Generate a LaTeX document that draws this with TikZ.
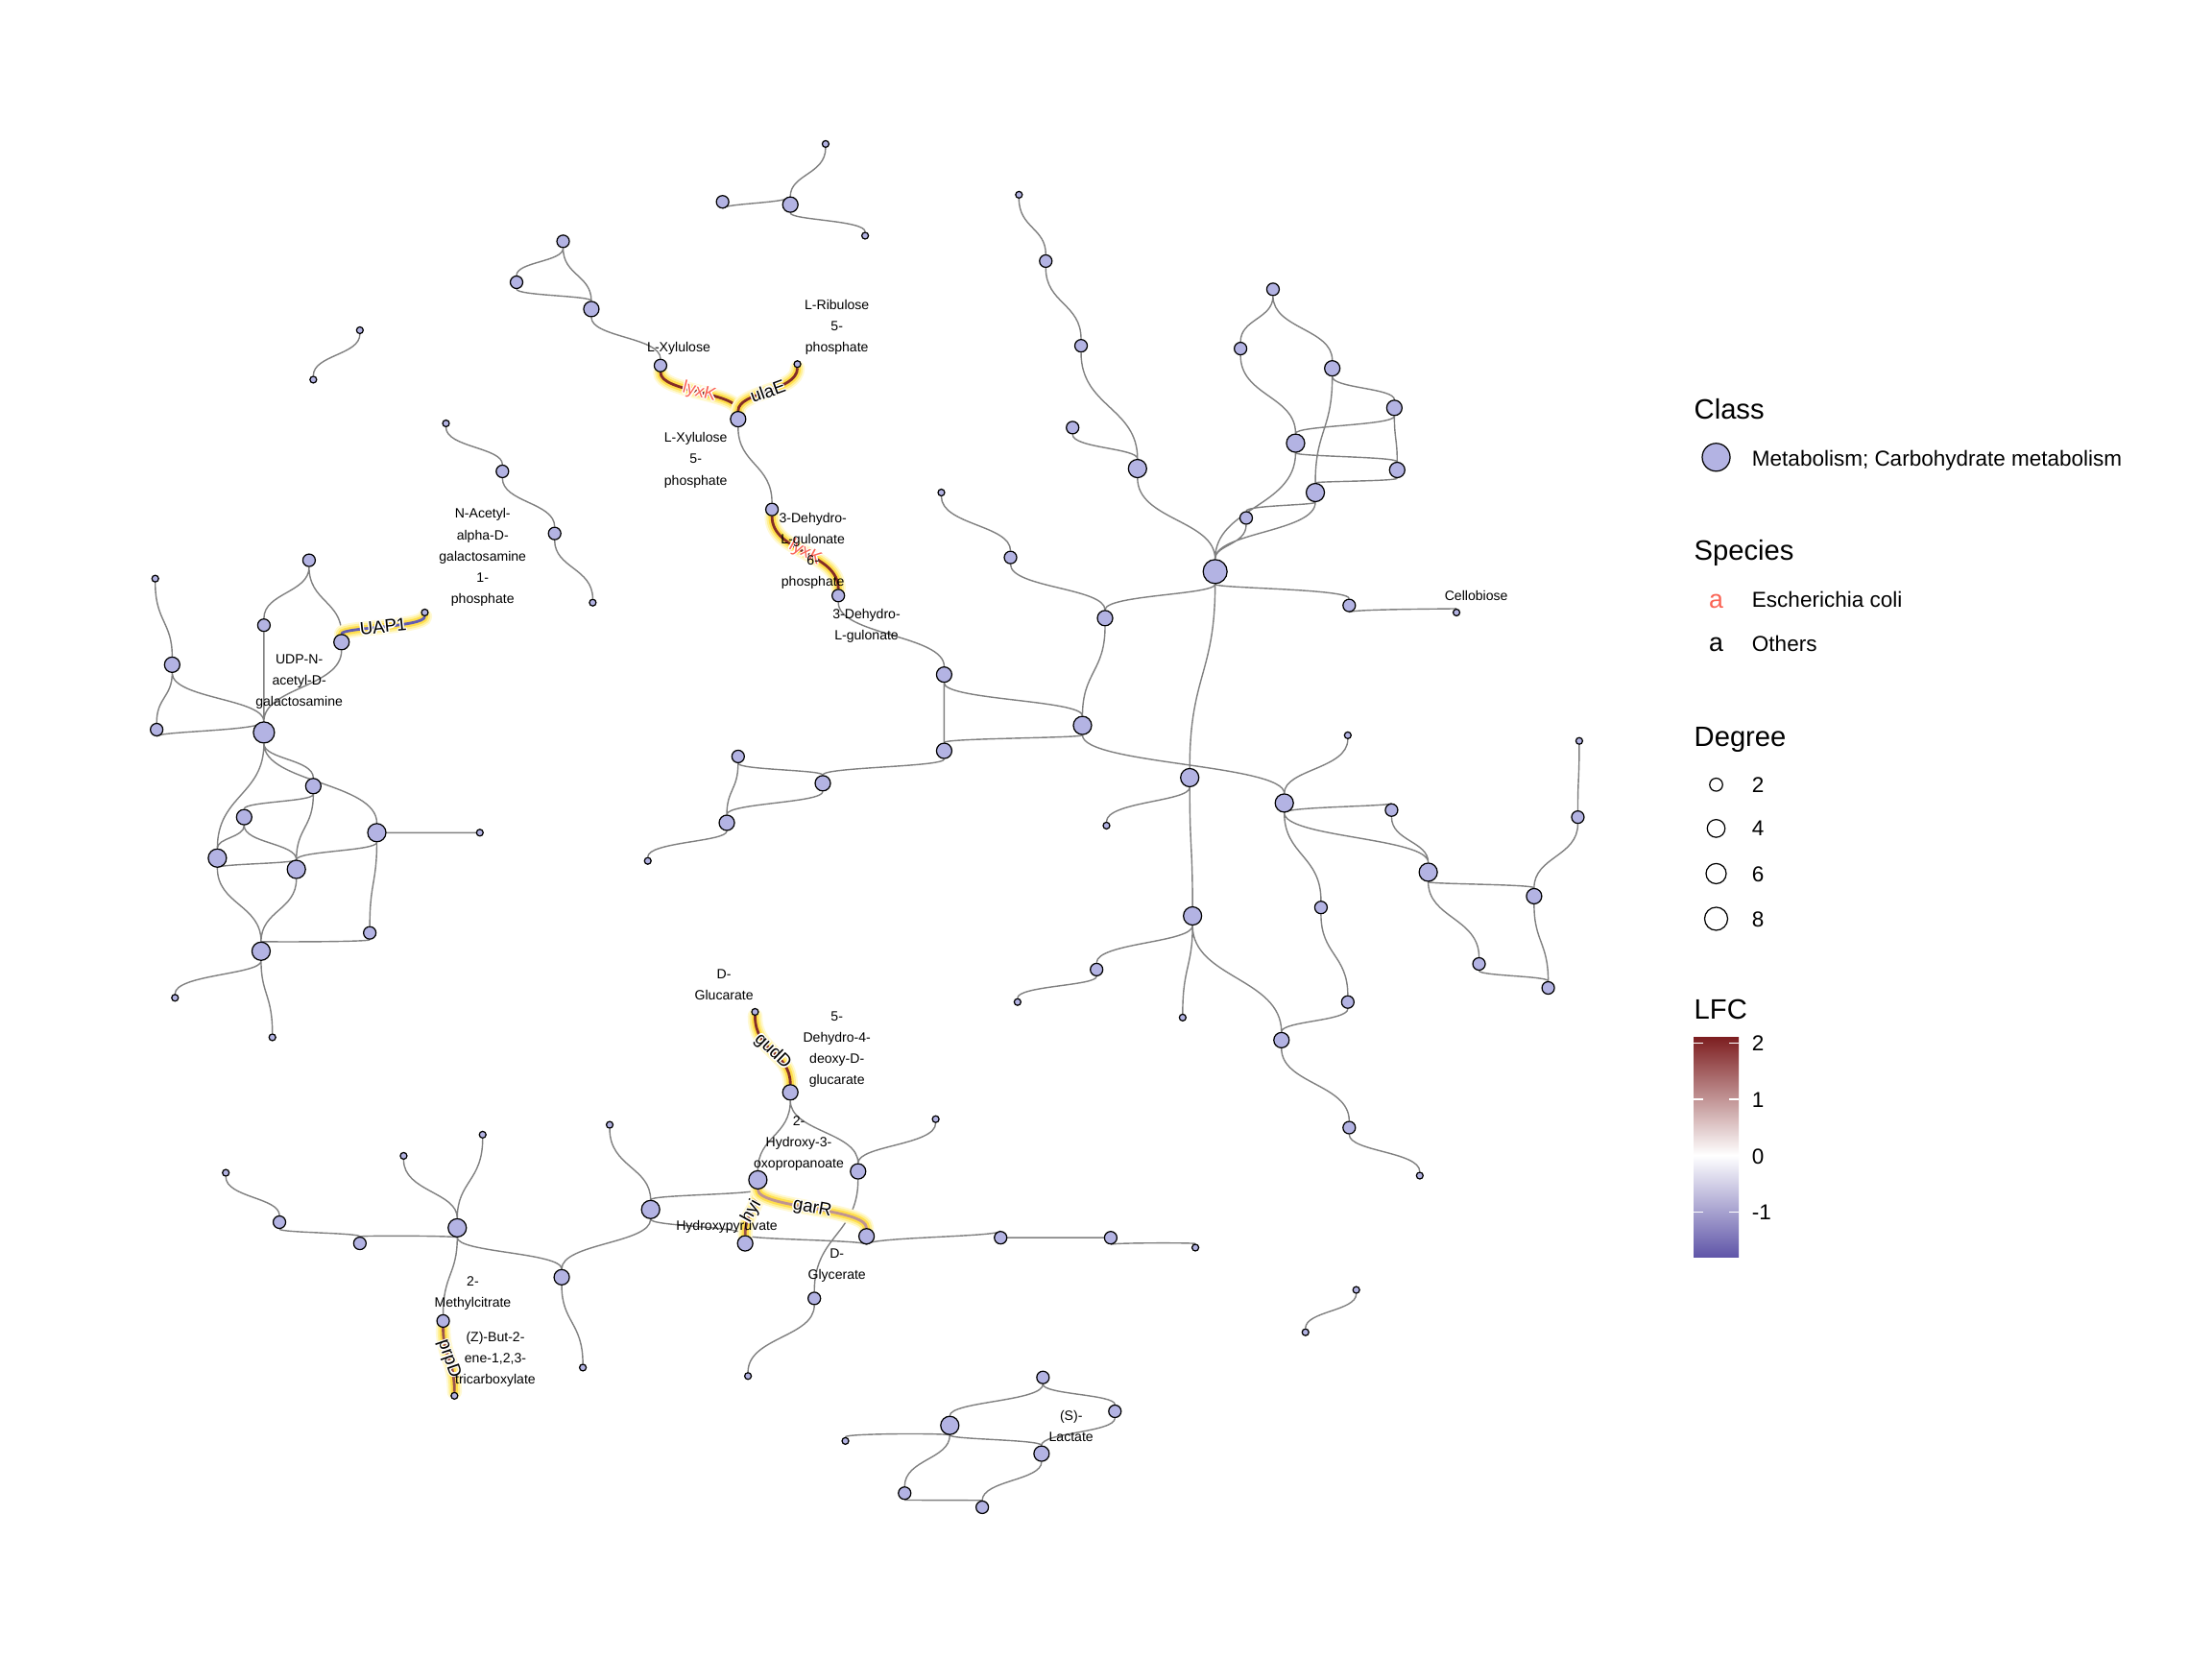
\documentclass[tikz,border=0pt]{standalone}
\usepackage{fontspec}
\setmainfont{Liberation Sans}
\usetikzlibrary{calc,backgrounds}
\definecolor{metfill}{RGB}{179,179,227}
\definecolor{edgegray}{RGB}{128,128,128}
\definecolor{ecoli}{RGB}{250,100,85}
\definecolor{glowa}{RGB}{255,249,212}
\definecolor{glowb}{RGB}{255,240,150}
\definecolor{glowc}{RGB}{255,222,75}
\definecolor{lfchi}{RGB}{132,44,38}
\definecolor{lfcup}{RGB}{155,82,74}
\definecolor{lfcmid}{RGB}{192,148,145}
\definecolor{lfclo}{RGB}{98,92,178}
\definecolor{bartop}{RGB}{125,30,32}
\definecolor{barbot}{RGB}{95,85,168}
\newcommand{\halotext}[1]{\leavevmode
  \rlap{\textcolor{white}{\hspace*{0.4pt}#1}}\rlap{\textcolor{white}{\hspace*{-0.4pt}#1}}%
  \rlap{\textcolor{white}{\raisebox{0.4pt}{#1}}}\rlap{\textcolor{white}{\raisebox{-0.4pt}{#1}}}%
  \rlap{\textcolor{white}{\raisebox{0.28pt}{\hspace*{0.28pt}#1}}}\rlap{\textcolor{white}{\raisebox{0.28pt}{\hspace*{-0.28pt}#1}}}%
  \rlap{\textcolor{white}{\raisebox{-0.28pt}{\hspace*{0.28pt}#1}}}\rlap{\textcolor{white}{\raisebox{-0.28pt}{\hspace*{-0.28pt}#1}}}%
  #1}
\tikzset{
  met/.style={circle, draw=black, fill=metfill, line width=0.35pt, inner sep=0pt},
  deg1/.style={met, minimum size=0.7mm},
  deg2/.style={met, minimum size=1.3mm},
  deg3/.style={met, minimum size=1.6mm},
  deg4/.style={met, minimum size=1.9mm},
  deg5/.style={met, minimum size=2.2mm},
  deg8/.style={met, minimum size=2.5mm},
  lnk/.style={draw=edgegray, line width=0.4pt},
  dg/.style={to path={let \p1=(\tikztostart), \p2=(\tikztotarget) in
    .. controls (\x1,{(\y1+\y2)/2}) and (\x2,{(\y1+\y2)/2}) .. (\tikztotarget) \tikztonodes}},
  gene/.style={draw=#1, line width=0.8pt,
    preaction={draw=glowa, line width=4.4pt, line cap=round},
    preaction={draw=glowb, line width=3.3pt, line cap=round},
    preaction={draw=glowc, line width=2.1pt, line cap=round}},
  glab/.style={font=\fontsize{5.3}{6}\selectfont, inner sep=0.3pt, sloped},
  lbl/.style={font=\fontsize{4}{6.3}\selectfont, align=center, inner sep=0pt},
  legtitle/.style={font=\fontsize{8.3}{10}\selectfont, anchor=base west, inner sep=0pt},
  legtext/.style={font=\fontsize{6.4}{8}\selectfont, anchor=base west, inner sep=0pt},
  degkey/.style={circle, draw=black, line width=0.35pt, inner sep=0pt}
}
\begin{document}
\begin{tikzpicture}[x=0.0147cm, y=-0.0147cm]
    \useasboundingbox (0,0) rectangle (1567.35,1175.5);

    \node[deg1] (a1) at (585,102) {};
    \node[deg3] (a2) at (560,145) {};
    \node[deg2] (a3) at (512,143) {};
    \node[deg1] (a4) at (613,167) {};
    \node[deg1] (b1) at (255,234) {};
    \node[deg1] (b2) at (222,269) {};

    \node[deg2] (c1) at (399,171) {};
    \node[deg2] (c2) at (366,200) {};
    \node[deg3] (c3) at (419,219) {};
    \node[deg2] (c4) at (468,259) {};
    \node[deg1] (c5) at (565,258) {};
    \node[deg3] (c6) at (523,297) {};
    \node[deg2] (c7) at (547,361) {};
    \node[deg2] (c8) at (594,422) {};

    \node[deg3] (d1) at (669,478) {};
    \node[deg3] (d2) at (669,532) {};
    \node[deg4] (d3) at (767,514) {};
    \node[deg3] (d4) at (583,555) {};
    \node[deg2] (d5) at (523,536) {};
    \node[deg3] (d6) at (515,583) {};
    \node[deg1] (d7) at (459,610) {};
    \node[deg3] (d8) at (783,438) {};
    \node[deg8] (d9) at (861,405) {};
    \node[deg2] (d10) at (956,429) {};
    \node[deg1] (d11) at (1032,434) {};
    \node[deg4] (d12) at (843,551) {};
    \node[deg4] (d13) at (845,649) {};
    \node[deg4] (d14) at (910,569) {};
    \node[deg2] (d15) at (986,574) {};
    \node[deg4] (d16) at (1012,618) {};
    \node[deg3] (d17) at (1087,635) {};
    \node[deg2] (d18) at (1118,579) {};
    \node[deg1] (d19) at (1119,525) {};
    \node[deg1] (d20) at (955,521) {};
    \node[deg2] (d21) at (1048,683) {};
    \node[deg2] (d22) at (1097,700) {};
    \node[deg2] (d23) at (936,643) {};
    \node[deg2] (d24) at (955,710) {};
    \node[deg3] (d25) at (908,737) {};
    \node[deg2] (d26) at (956,799) {};
    \node[deg1] (d27) at (1006,833) {};
    \node[deg1] (d28) at (838,721) {};
    \node[deg2] (d29) at (777,687) {};
    \node[deg1] (d30) at (721,710) {};
    \node[deg1] (d31) at (784,585) {};

    \node[deg1] (e1) at (722,138) {};
    \node[deg2] (e2) at (741,185) {};
    \node[deg2] (e3) at (766,245) {};
    \node[deg2] (e4) at (760,303) {};
    \node[deg4] (e5) at (806,332) {};
    \node[deg2] (e6) at (902,205) {};
    \node[deg2] (e7) at (879,247) {};
    \node[deg3] (e8) at (944,261) {};
    \node[deg3] (e9) at (988,289) {};
    \node[deg4] (e10) at (918,314) {};
    \node[deg3] (e11) at (990,333) {};
    \node[deg4] (e12) at (932,349) {};
    \node[deg2] (e13) at (883,367) {};
    \node[deg2] (f1) at (716,395) {};
    \node[deg1] (f2) at (667,349) {};

    \node[deg1] (g1) at (110,410) {};
    \node[deg3] (g2) at (122,471) {};
    \node[deg2] (g3) at (111,517) {};
    \node[deg5] (g4) at (187,519) {};
    \node[deg2] (g5) at (187,443) {};
    \node[deg2] (g6) at (219,397) {};
    \node[deg3] (g7) at (242,455) {};
    \node[deg1] (g8) at (301,434) {};
    \node[deg3] (g9) at (222,557) {};
    \node[deg3] (g10) at (173,579) {};
    \node[deg4] (g11) at (154,608) {};
    \node[deg4] (g12) at (210,616) {};
    \node[deg4] (g13) at (267,590) {};
    \node[deg1] (g14) at (340,590) {};
    \node[deg2] (g15) at (262,661) {};
    \node[deg4] (g16) at (185,674) {};
    \node[deg1] (g17) at (124,707) {};
    \node[deg1] (g18) at (193,735) {};

    \node[deg1] (h1) at (316,300) {};
    \node[deg2] (h2) at (356,334) {};
    \node[deg2] (h3) at (393,378) {};
    \node[deg1] (h4) at (420,427) {};

    \node[deg1] (i1) at (160,831) {};
    \node[deg2] (i2) at (198,866) {};
    \node[deg2] (i3) at (255,881) {};
    \node[deg4] (i4) at (324,870) {};
    \node[deg1] (i5) at (286,819) {};
    \node[deg1] (i6) at (342,804) {};
    \node[deg2] (i7) at (314,936) {};
    \node[deg1] (i8) at (322,989) {};
    \node[deg3] (i9) at (398,905) {};
    \node[deg1] (i10) at (413,969) {};
    \node[deg4] (i11) at (461,857) {};
    \node[deg1] (i12) at (432,797) {};
    \node[deg4] (i13) at (537,836) {};
    \node[deg3] (i14) at (528,881) {};
    \node[deg3] (i15) at (614,876) {};
    \node[deg2] (i16) at (577,920) {};
    \node[deg1] (i17) at (530,975) {};
    \node[deg3] (i18) at (560,774) {};
    \node[deg1] (i19) at (535,717) {};
    \node[deg3] (i20) at (608,830) {};
    \node[deg1] (i21) at (663,793) {};
    \node[deg2] (i22) at (709,877) {};
    \node[deg2] (i23) at (787,877) {};
    \node[deg1] (i24) at (847,884) {};

    \node[deg2] (j1) at (739,976) {};
    \node[deg2] (j2) at (790,1000) {};
    \node[deg4] (j3) at (673,1010) {};
    \node[deg1] (j4) at (599,1021) {};
    \node[deg3] (j5) at (738,1030) {};
    \node[deg2] (j6) at (641,1058) {};
    \node[deg2] (j7) at (696,1068) {};
    \node[deg1] (k1) at (961,914) {};
    \node[deg1] (k2) at (925,944) {};

    \begin{scope}[on background layer]
    \draw[lnk] (a2) to[dg] (a1) (a2) to[dg] (a3) (a2) to[dg] (a4) (b1) to[dg] (b2);
    \draw[lnk] (c1) to[dg] (c2) (c1) to[dg] (c3) (c2) to[dg] (c3) (c3) to[dg] (c4)
        (c6) to[dg] (c7) (c8) to[dg] (d1);
    \draw[lnk] (d1) to[dg] (d2) (d1) to[dg] (d3) (d2) to[dg] (d3) (d2) to[dg] (d4)
        (d4) to[dg] (d5) (d4) to[dg] (d6) (d5) to[dg] (d6) (d6) to[dg] (d7)
        (d8) to[dg] (d3) (d9) to[dg] (d8) (d9) to[dg] (d10) (d10) to[dg] (d11)
        (d9) to[dg] (d12) (d12) to[dg] (d31) (d12) to[dg] (d13) (d3) to[dg] (d14);
    \draw[lnk] (d14) to[dg] (d20) (d14) to[dg] (d15) (d14) to[dg] (d16) (d14) to[dg] (d23)
        (d15) to[dg] (d16) (d16) to[dg] (d17) (d16) to[dg] (d21) (d17) to[dg] (d18)
        (d18) to[dg] (d19) (d17) to[dg] (d22) (d21) to[dg] (d22);
    \draw[lnk] (d23) to[dg] (d24) (d24) to[dg] (d25) (d25) to[dg] (d13) (d25) to[dg] (d26)
        (d26) to[dg] (d27) (d13) to[dg] (d29) (d29) to[dg] (d30) (d13) to[dg] (d28);
    \draw[lnk] (e1) to[dg] (e2) (e2) to[dg] (e3) (e3) to[dg] (e5) (e4) to[dg] (e5)
        (e5) to[dg] (d9) (e6) to[dg] (e7) (e6) to[dg] (e8) (e7) to[dg] (e10)
        (e8) to[dg] (e9) (e8) to[dg] (e12) (e9) to[dg] (e10) (e9) to[dg] (e11)
        (e10) to[dg] (e11) (e11) to[dg] (e12) (e10) to[dg] (d9) (e12) to[dg] (e13)
        (e12) to[dg] (d9) (e13) to[dg] (d9) (f2) to[dg] (f1) (f1) to[dg] (d8);
    \draw[lnk] (g1) to[dg] (g2) (g2) to[dg] (g3) (g2) to[dg] (g4) (g3) to[dg] (g4)
        (g5) to[dg] (g4) (g5) to[dg] (g6) (g6) to[dg] (g7) (g7) to[dg] (g4)
        (g4) to[dg] (g9) (g4) to[dg] (g13) (g4) to[dg] (g11) (g9) to[dg] (g10)
        (g9) to[dg] (g12) (g10) to[dg] (g11) (g10) to[dg] (g12) (g11) to[dg] (g12)
        (g12) to[dg] (g13) (g13) to[dg] (g14) (g13) to[dg] (g15) (g11) to[dg] (g16)
        (g12) to[dg] (g16) (g15) to[dg] (g16) (g16) to[dg] (g17) (g16) to[dg] (g18);
    \draw[lnk] (h1) to[dg] (h2) (h2) to[dg] (h3) (h3) to[dg] (h4);
    \draw[lnk] (i1) to[dg] (i2) (i2) to[dg] (i3) (i3) to[dg] (i4) (i5) to[dg] (i4)
        (i6) to[dg] (i4) (i4) to[dg] (i7) (i4) to[dg] (i9) (i9) to[dg] (i10)
        (i9) to[dg] (i11) (i11) to[dg] (i12) (i11) to[dg] (i13) (i11) to[dg] (i14)
        (i13) to[dg] (i18) (i18) to[dg] (i20) (i20) to[dg] (i21) (i20) to[dg] (i16)
        (i14) to[dg] (i15) (i15) to[dg] (i22) (i22) to[dg] (i23) (i23) to[dg] (i24)
        (i16) to[dg] (i17);
    \draw[lnk] (j1) to[dg] (j3) (j1) to[dg] (j2) (j2) to[dg] (j5) (j3) to[dg] (j4)
        (j3) to[dg] (j5) (j3) to[dg] (j6) (j6) to[dg] (j7) (j7) to[dg] (j5)
        (k1) to[dg] (k2);

    \draw[gene=lfchi] (c4) to[dg] node[glab, text=ecoli] {\halotext{lyxK}} (c6);
    \draw[gene=lfchi] (c5) to[dg] node[glab] {\halotext{ulaE}} (c6);
    \draw[gene=lfchi] (c7) to[dg] node[glab, text=ecoli] {\halotext{lyxK}} (c8);
    \draw[gene=lfclo] (g7) to[dg] node[glab] {\halotext{UAP1}} (g8);
    \draw[gene=lfchi] (i19) to[dg] node[glab] {\halotext{gudD}} (i18);
    \draw[gene=lfcup] (i13) to[dg] node[glab] {\halotext{hyi}} (i14);
    \draw[gene=lfcmid] (i13) to[dg] node[glab] {\halotext{garR}} (i15);
    \draw[gene=lfcup] (i7) to[dg] node[glab] {\halotext{prpD}} (i8);
    \end{scope}

    \node[lbl] (t-ribu) at (593,232) {L-Ribulose\\5-\\phosphate};
    \node[lbl] (t-xylu) at (481,247) {L-Xylulose};
    \node[lbl] (t-xylu5p) at (493,326) {L-Xylulose\\5-\\phosphate};
    \node[lbl] (t-dhg6p) at (576,390.5) {3-Dehydro-\\L-gulonate\\6-\\phosphate};
    \node[lbl] (t-dhg) at (614,443.5) {3-Dehydro-\\L-gulonate};
    \node[lbl] (t-galnac) at (342,395) {N-Acetyl-\\alpha-D-\\galactosamine\\1-\\phosphate};
    \node[lbl] (t-udp) at (212,483) {UDP-N-\\acetyl-D-\\galactosamine};
    \node[lbl] (t-cello) at (1046,422) {Cellobiose};
    \node[lbl] (t-glucar) at (513,697.5) {D-\\Glucarate};
    \node[lbl] (t-ddg) at (593,743.5) {5-\\Dehydro-4-\\deoxy-D-\\glucarate};
    \node[lbl] (t-hop) at (566,810) {2-\\Hydroxy-3-\\oxopropanoate};
    \node[lbl] (t-hpyr) at (515,869) {Hydroxypyruvate};
    \node[lbl] (t-glyc) at (593,896.5) {D-\\Glycerate};
    \node[lbl] (t-mcit) at (335,916.5) {2-\\Methylcitrate};
    \node[lbl] (t-zbut) at (351,963) {(Z)-But-2-\\ene-1,2,3-\\tricarboxylate};
    \node[lbl] (t-lact) at (759,1010.5) {(S)-\\Lactate};

    \node[legtitle] (lg-class) at (1200,297) {Class};
    \node[met, minimum size=2.9mm] (lg-met) at (1216,324) {};
    \node[legtext] (lg-mettxt) at (1241,330.5) {Metabolism; Carbohydrate metabolism};
    \node[legtitle] (lg-species) at (1200,397) {Species};
    \node[font=\fontsize{7.6}{8}\selectfont, text=ecoli, inner sep=0pt] (lg-eca) at (1216,426) {a};
    \node[legtext] (lg-ec) at (1241,430.5) {Escherichia coli};
    \node[font=\fontsize{7.6}{8}\selectfont, inner sep=0pt] (lg-oa) at (1216,457) {a};
    \node[legtext] (lg-oth) at (1241,461.5) {Others};
    \node[legtitle] (lg-degree) at (1200,529) {Degree};
    \node[degkey, minimum size=1.35mm] (lg-d2) at (1216,556) {};
    \node[degkey, minimum size=1.85mm] (lg-d4) at (1216,587) {};
    \node[degkey, minimum size=2.1mm] (lg-d6) at (1216,619) {};
    \node[degkey, minimum size=2.4mm] (lg-d8) at (1216,651) {};
    \node[legtext] (lg-t2) at (1241,561.5) {2};
    \node[legtext] (lg-t4) at (1241,592.5) {4};
    \node[legtext] (lg-t6) at (1241,624.5) {6};
    \node[legtext] (lg-t8) at (1241,656.5) {8};
    \node[legtitle] (lg-lfc) at (1200,722) {LFC};
    \shade[top color=bartop, bottom color=white] (1200,734.7) rectangle (1232,818.6);
    \shade[top color=white, bottom color=barbot] (1200,818.6) rectangle (1232,890.7);
    \draw[white, line width=0.4pt] (1200,739) -- (1206.5,739) (1225.5,739) -- (1232,739)
        (1200,779) -- (1206.5,779) (1225.5,779) -- (1232,779)
        (1200,859) -- (1206.5,859) (1225.5,859) -- (1232,859);
    \node[legtext] (lg-v2) at (1241,744.5) {2};
    \node[legtext] (lg-v1) at (1241,784.5) {1};
    \node[legtext] (lg-v0) at (1241,824.5) {0};
    \node[legtext] (lg-vm) at (1241,864.5) {-1};
\end{tikzpicture}
\end{document}
